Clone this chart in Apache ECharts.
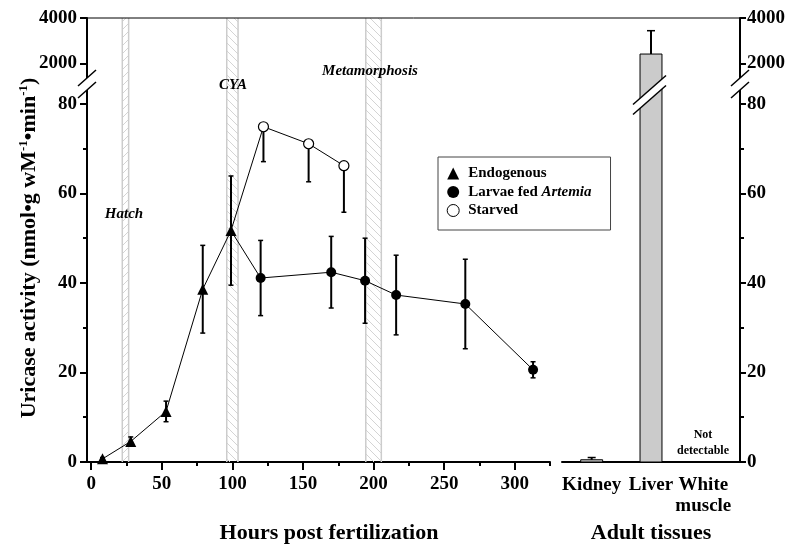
<!DOCTYPE html>
<html><head><meta charset="utf-8">
<script src="https://cdn.jsdelivr.net/npm/echarts@6/dist/echarts.min.js"></script>
<style>html,body{margin:0;padding:0;background:#fff}#c{width:791px;height:545px}</style>
</head><body><div id="c"></div><script>
const FONT = 'Liberation Serif';

// ---- tick labels ----
const hourTicks = [0, 50, 100, 150, 200, 250, 300];
const hourMinorTicks = [25, 75, 125, 175, 225, 275, 325];
const lowTicks = [0, 20, 40, 60, 80];
const lowMinorTicks = [10, 30, 50, 70];
const highTicks = [2000, 4000];

// ---- larval series (hours post fertilization) ----
const endoHours = [8, 28, 53, 79, 99];
const endoMean  = [0.7, 4.6, 11.3, 38.6, 51.7];
const endoSD    = [0.3, 1.0, 2.3, 9.8, 12.2];

const fedHours = [120, 170, 194, 216, 265, 313];
const fedMean  = [41.1, 42.4, 40.5, 37.3, 35.3, 20.6];
const fedSD    = [8.4, 8.0, 9.5, 8.9, 10.0, 1.8];

const starvedHours = [122, 154, 179];
const starvedMean  = [74.9, 71.1, 66.2];
const starvedSD    = [7.8, 8.5, 10.4];

// ---- developmental events (hours) ----
const bandStart = [22, 96, 194.5];
const bandEnd   = [26.5, 104, 205.5];
const bandDir   = [0, 1, 1];

// ---- adult tissues ----
const tissues    = ['Kidney', 'Liver', 'White\nmuscle'];
const tissueMean = [0.5, 2410, null];
const tissueSD   = [0.5, 1030, null];

// ---------------- layout ----------------
const LX = 87, LW = 463, RX = 562, RW = 178;
const UT = 18, UH = 68, BT = 86, BH = 376;

function hatch(dir) {
  const c = document.createElement('canvas'); c.width = 8; c.height = 8;
  const g = c.getContext('2d');
  g.strokeStyle = '#d4d4d4'; g.lineWidth = 1;
  g.beginPath();
  if (dir) { g.moveTo(-1,-1); g.lineTo(9,9); g.moveTo(-1,7); g.lineTo(1,9); g.moveTo(7,-1); g.lineTo(9,1); }
  else { g.moveTo(-1,9); g.lineTo(9,-1); g.moveTo(-1,1); g.lineTo(1,-1); g.moveTo(7,9); g.lineTo(9,7); }
  g.stroke();
  return c;
}
const patterns = [hatch(0), hatch(1)];

const bandData = bandStart.map((s, i) => [s, bandEnd[i], bandDir[i]]);
function renderBand(params, api) {
  const cs = params.coordSys;
  const x0 = api.coord([api.value(0), 0])[0];
  const x1 = api.coord([api.value(1), 0])[0];
  const pat = patterns[api.value(2)];
  return { type: 'group', children: [
    { type: 'rect', shape: { x: x0, y: cs.y, width: x1 - x0, height: cs.height },
      style: { fill: { image: pat, repeat: 'repeat' } } },
    { type: 'line', shape: { x1: x0, y1: cs.y, x2: x0, y2: cs.y + cs.height }, style: { stroke: '#cccccc', lineWidth: 1.5 } },
    { type: 'line', shape: { x1: x1, y1: cs.y, x2: x1, y2: cs.y + cs.height }, style: { stroke: '#cccccc', lineWidth: 1.5 } }
  ]};
}

function makeErr(cap) {
  return function (params, api) {
    const x = api.value(0);
    const p0 = api.coord([x, api.value(1)]);
    const p1 = api.coord([x, api.value(2)]);
    const ch = [{ type: 'line', shape: { x1: p0[0], y1: p0[1], x2: p1[0], y2: p1[1] }, style: { stroke: '#000', lineWidth: 2 } }];
    if (api.value(3)) ch.push({ type: 'line', shape: { x1: p0[0]-cap, y1: p0[1], x2: p0[0]+cap, y2: p0[1] }, style: { stroke: '#000', lineWidth: 1.5 } });
    if (api.value(4)) ch.push({ type: 'line', shape: { x1: p1[0]-cap, y1: p1[1], x2: p1[0]+cap, y2: p1[1] }, style: { stroke: '#000', lineWidth: 1.5 } });
    return { type: 'group', children: ch };
  };
}

const pointErr = [];
endoHours.forEach((h, i) => pointErr.push([h, endoMean[i] - endoSD[i], endoMean[i] + endoSD[i], 1, 1]));
fedHours.forEach((h, i) => pointErr.push([h, fedMean[i] - fedSD[i], fedMean[i] + fedSD[i], 1, 1]));
starvedHours.forEach((h, i) => pointErr.push([h, starvedMean[i] - starvedSD[i], starvedMean[i], 1, 0]));

const tissueBars = [], tissueErr = [];
tissues.forEach((t, i) => {
  if (tissueMean[i] != null) {
    tissueBars.push([i, tissueMean[i]]);
    tissueErr.push([i, tissueMean[i], tissueMean[i] + tissueSD[i], 0, 1]);
  }
});
function renderBar(params, api) {
  const i = api.value(0);
  const top = api.coord([i, api.value(1)]);
  const base = api.coord([i, 0]);
  const w = api.size([1, 0])[0] * 0.37;
  return { type: 'rect', shape: { x: top[0] - w/2, y: top[1], width: w, height: base[1] - top[1] },
    style: { fill: '#cbcbcb', stroke: '#000', lineWidth: 1 } };
}

const junction = { value: [endoHours[endoHours.length-1], endoMean[endoMean.length-1]], symbol: 'none' };
const endoData = endoHours.map((h, i) => [h, endoMean[i]]);
const fedData = [junction].concat(fedHours.map((h, i) => [h, fedMean[i]]));
const starvedData = [junction].concat(starvedHours.map((h, i) => [h, starvedMean[i]]));

const plain = v => String(v);
const lbl = { color: '#000', fontFamily: FONT, fontWeight: 'bold', fontSize: 19, formatter: plain };
const aline = { show: true, onZero: false, lineStyle: { color: '#000', width: 2 } };
const tick = (vals, len) => ({ show: true, customValues: vals, length: len, lineStyle: { color: '#000', width: 2 } });
const hidden = { show: false };
const titleStyle = { color: '#000', fontFamily: FONT, fontWeight: 'bold', fontSize: 22 };
const tissueCats = tissues.map((t, i) => i === tissues.length - 1 ? { value: t, textStyle: { padding: [0, 14, 0, 0] } } : t);

const grid = [
  { left: LX, top: BT, width: LW, height: BH },
  { left: LX, top: UT, width: LW, height: UH },
  { left: RX, top: BT, width: RW, height: BH },
  { left: RX, top: UT, width: RW, height: UH },
  { left: LX, top: BT, width: LW, height: BH },
  { left: RX, top: BT, width: RW, height: BH }
].map(g => Object.assign(g, { outerBoundsMode: 'none', containLabel: false }));

const xAxis = [
  { type: 'value', gridIndex: 0, min: -3, max: 325, axisLine: aline, axisTick: tick(hourTicks, 8),
    axisLabel: Object.assign({ customValues: hourTicks, margin: 13 }, lbl), splitLine: hidden,
    name: 'Hours post fertilization', nameLocation: 'middle', nameGap: 60,
    nameTextStyle: Object.assign({ padding: [0, 0, 0, 21] }, titleStyle) },
  { type: 'value', gridIndex: 1, min: -3, max: 325, show: false },
  { type: 'category', gridIndex: 2, data: tissueCats, axisLine: aline, axisTick: hidden,
    axisLabel: Object.assign({ interval: 0, margin: 13, lineHeight: 21 }, lbl, { formatter: null }),
    name: 'Adult tissues', nameLocation: 'middle', nameGap: 60, nameTextStyle: titleStyle },
  { type: 'category', gridIndex: 3, data: tissues, show: false },
  { type: 'value', gridIndex: 4, min: -3, max: 325, axisLine: { show: false, onZero: false },
    axisTick: tick(hourMinorTicks, 4), axisLabel: hidden, splitLine: hidden },
  { type: 'category', gridIndex: 5, data: tissues, show: false }
];

const yAxis = [
  { type: 'value', gridIndex: 0, min: 0, max: 84, axisLine: aline, axisTick: tick(lowTicks, 7),
    axisLabel: Object.assign({ customValues: lowTicks, margin: 10 }, lbl), splitLine: hidden },
  { type: 'value', gridIndex: 1, min: 1000, max: 4000, axisLine: aline, axisTick: tick(highTicks, 7),
    axisLabel: Object.assign({ customValues: highTicks, margin: 10 }, lbl), splitLine: hidden },
  { type: 'value', gridIndex: 2, position: 'right', min: 0, max: 84, axisLine: aline, axisTick: tick(lowTicks, 6),
    axisLabel: Object.assign({ customValues: lowTicks, margin: 7 }, lbl), splitLine: hidden },
  { type: 'value', gridIndex: 3, position: 'right', min: 1000, max: 4000, axisLine: aline, axisTick: tick(highTicks, 6),
    axisLabel: Object.assign({ customValues: highTicks, margin: 7 }, lbl), splitLine: hidden },
  { type: 'value', gridIndex: 4, min: 0, max: 84, axisLine: { show: false, onZero: false },
    axisTick: tick(lowMinorTicks, 4), axisLabel: hidden, splitLine: hidden },
  { type: 'value', gridIndex: 5, position: 'right', min: 0, max: 84, axisLine: { show: false, onZero: false },
    axisTick: tick(lowMinorTicks, 4), axisLabel: hidden, splitLine: hidden }
];

const lineCommon = { type: 'line', xAxisIndex: 0, yAxisIndex: 0, z: 4, lineStyle: { color: '#000', width: 1 } };
const series = [
  { type: 'custom', xAxisIndex: 0, yAxisIndex: 0, z: 1, renderItem: renderBand, data: bandData, silent: true },
  { type: 'custom', xAxisIndex: 1, yAxisIndex: 1, z: 1, renderItem: renderBand, data: bandData, silent: true },
  { type: 'custom', xAxisIndex: 0, yAxisIndex: 0, z: 3, renderItem: makeErr(2.5), data: pointErr, silent: true },
  Object.assign({ name: 'Endogenous', data: endoData, symbol: 'triangle', symbolSize: 11,
    itemStyle: { color: '#000' } }, lineCommon),
  Object.assign({ name: 'Larvae fed Artemia', data: fedData, symbol: 'circle', symbolSize: 10,
    itemStyle: { color: '#000' } }, lineCommon),
  Object.assign({ name: 'Starved', data: starvedData, symbol: 'circle', symbolSize: 10,
    itemStyle: { color: '#fff', borderColor: '#000', borderWidth: 1.2 } }, lineCommon),
  { type: 'custom', xAxisIndex: 2, yAxisIndex: 2, z: 2, clip: true, renderItem: renderBar, data: tissueBars },
  { type: 'custom', xAxisIndex: 3, yAxisIndex: 3, z: 2, clip: true, renderItem: renderBar, data: tissueBars },
  { type: 'custom', xAxisIndex: 2, yAxisIndex: 2, z: 3, clip: true, renderItem: makeErr(4), data: tissueErr },
  { type: 'custom', xAxisIndex: 3, yAxisIndex: 3, z: 3, clip: true, renderItem: makeErr(4), data: tissueErr }
];

const richLeg = {
  b: { fontFamily: FONT, fontWeight: 'bold', fontSize: 15, color: '#000', padding: [0, 0, 0, 4] },
  c: { fontFamily: FONT, fontWeight: 'bold', fontSize: 15, color: '#000' },
  i: { fontFamily: FONT, fontWeight: 'bold', fontStyle: 'italic', fontSize: 15, color: '#000' }
};
const legend = {
  orient: 'vertical', left: 438, top: 157, padding: [9, 19, 12, 8.7],
  itemWidth: 12, itemHeight: 12, itemGap: 3.5, borderColor: '#444', borderWidth: 1,
  selectedMode: false,
  data: [
    { name: 'Endogenous', icon: 'triangle', itemStyle: { color: '#000' } },
    { name: 'Larvae fed Artemia', icon: 'circle', itemStyle: { color: '#000' } },
    { name: 'Starved', icon: 'circle', itemStyle: { color: '#fff', borderColor: '#000', borderWidth: 1 } }
  ],
  formatter: n => n === 'Larvae fed Artemia' ? '{b|Larvae fed }{i|Artemia}' : '{b|' + n + '}',
  textStyle: { fontFamily: FONT, fontWeight: 'bold', fontSize: 15, color: '#000', rich: richLeg }
};

function brk(cx, cy, dx, dy, gap) {
  const p = [[cx - dx, cy + dy - gap/2], [cx + dx, cy - dy - gap/2], [cx + dx, cy - dy + gap/2], [cx - dx, cy + dy + gap/2]];
  return [
    { type: 'polygon', z: 100, shape: { points: p }, style: { fill: '#fff' } },
    { type: 'line', z: 101, shape: { x1: p[0][0], y1: p[0][1], x2: p[1][0], y2: p[1][1] }, style: { stroke: '#000', lineWidth: 1.5 } },
    { type: 'line', z: 101, shape: { x1: p[3][0], y1: p[3][1], x2: p[2][0], y2: p[2][1] }, style: { stroke: '#000', lineWidth: 1.5 } }
  ];
}
const annot = (x, y, t, f) => ({ type: 'text', z: 50, x, y,
  style: { text: t, font: f, fill: '#000', align: 'center', verticalAlign: 'middle' } });
const graphic = [].concat(
  [{ type: 'line', z: 50, shape: { x1: LX, y1: UT, x2: RX + RW, y2: UT }, style: { stroke: '#000', lineWidth: 1 } }],
  brk(87, 84, 9, 8, 12),
  brk(740, 84, 9, 8, 12),
  brk(649.5, 95, 16.5, 14.5, 10),
  [
    annot(124, 214, 'Hatch', 'italic bold 15px ' + FONT),
    annot(233, 85, 'CYA', 'italic bold 15px ' + FONT),
    annot(370, 71, 'Metamorphosis', 'italic bold 15px ' + FONT),
    annot(703, 435, 'Not', 'bold 12px ' + FONT),
    annot(703, 451, 'detectable', 'bold 12px ' + FONT),
    { type: 'text', z: 50, x: 29, y: 248, rotation: Math.PI / 2,
      style: { text: '{a|Uricase activity (nmol•g wM}{s|-1}{a|•min}{s|-1}{a|)}', align: 'center', verticalAlign: 'middle',
        fill: '#000', font: 'bold 22px ' + FONT,
        rich: { a: { fontFamily: FONT, fontWeight: 'bold', fontSize: 22, lineHeight: 24, fill: '#000' },
                s: { fontFamily: FONT, fontWeight: 'bold', fontSize: 13, lineHeight: 24, verticalAlign: 'top', padding: [0, 0, 12, 0], fill: '#000' } } } }
  ]
);

const chart = echarts.init(document.getElementById('c'), null, { renderer: 'canvas' });
chart.setOption({ animation: false, backgroundColor: '#fff', grid, xAxis, yAxis, series, legend, graphic });
</script></body></html>
